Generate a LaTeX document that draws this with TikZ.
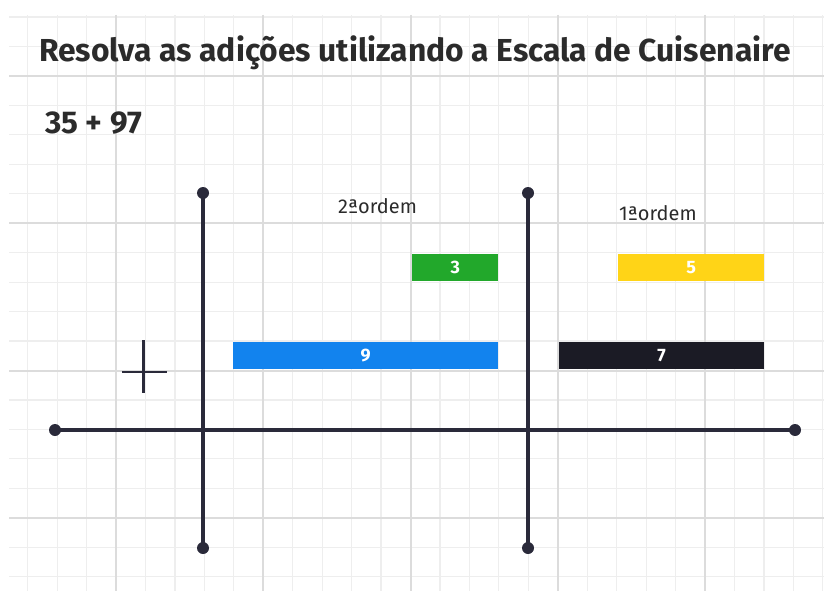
\documentclass[tikz,border=0pt]{standalone}
\usepackage{fontspec}
\setmainfont{Fira Sans}
\definecolor{ink}{HTML}{2A2A3A}
\definecolor{gminor}{HTML}{EEEEEE}
\definecolor{gmajor}{HTML}{DCDCDC}
\definecolor{cgreen}{HTML}{22A82B}
\definecolor{cyellow}{HTML}{FFD417}
\definecolor{cblue}{HTML}{1283EE}
\definecolor{cblack}{HTML}{1B1B25}
\definecolor{txt}{HTML}{2B2B2B}
\begin{document}
\begin{tikzpicture}[x=1pt,y=-1pt,
  dot/.style={circle,fill=ink,inner sep=0pt,minimum size=12pt},
  axis/.style={draw=ink,line width=3.2pt},
  bar/.style={rectangle,anchor=north west,inner sep=0pt,minimum height=27pt,text=white,font=\bfseries\fontsize{18}{20}\selectfont},
  lbl/.style={text=txt,font=\fontsize{20}{24}\selectfont,inner sep=0pt}]
\useasboundingbox (0,0) rectangle (824,591);
\begin{scope}
\clip (9,15) rectangle (824,591);
\foreach \i in {0,...,27} {\draw[gminor,line width=1.2pt] ({27.65+29.45*\i},15) -- ++(0,576);}
\foreach \i in {0,...,19} {\draw[gminor,line width=1.2pt] (9,{17.1+29.45*\i}) -- ++(815,0);}
\foreach \i in {0,...,4} {\draw[gmajor,line width=2pt] ({116+147.25*\i},15) -- ++(0,576);}
\foreach \i in {0,...,3} {\draw[gmajor,line width=2pt] (9,{76+147.25*\i}) -- ++(815,0);}
\end{scope}
% title and sum
\node[anchor=base west,text=txt,inner sep=0pt,font=\bfseries\fontsize{31.8}{36}\selectfont] (title) at (39,62) {Resolva as adições utilizando a Escala de Cuisenaire};
\node[anchor=base west,text=txt,inner sep=0pt,font=\bfseries\fontsize{31.5}{36}\selectfont] (sum) at (45,133) {35 + 97};
% axes
\node[dot] (hl) at (55,430) {};
\node[dot] (hr) at (795,430) {};
\node[dot] (v1t) at (203,193) {};
\node[dot] (v1b) at (203,548) {};
\node[dot] (v2t) at (528,193) {};
\node[dot] (v2b) at (528,548) {};
\draw[axis] (hl.center) -- (hr.center);
\draw[axis] (v1t.center) -- (v1b.center);
\draw[axis] (v2t.center) -- (v2b.center);
% plus sign
\coordinate (pt) at (143.5,340);
\coordinate (pb) at (143.5,393);
\coordinate (pl) at (122,372);
\coordinate (pr) at (167,372);
\draw[ink,line width=2.4pt] (pt) -- (pb);
\draw[ink,line width=2.4pt] (pl) -- (pr);
% labels
\node[lbl,anchor=base west] (o2) at (338,213) {2ªordem};
\node[lbl,anchor=base west] (o1) at (619,220) {1ªordem};
% bars
\node[bar,fill=cgreen,minimum width=86pt] (b3) at (412,254) {3};
\node[bar,fill=cyellow,minimum width=146pt] (b5) at (618,254) {5};
\node[bar,fill=cblue,minimum width=265pt] (b9) at (233,342) {9};
\node[bar,fill=cblack,minimum width=205pt] (b7) at (559,342) {7};
\end{tikzpicture}
\end{document}
